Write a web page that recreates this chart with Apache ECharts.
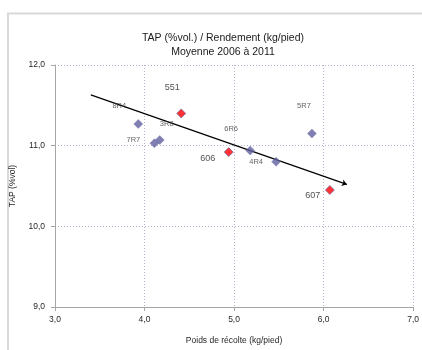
<!DOCTYPE html>
<html><head><meta charset="utf-8">
<script src="https://cdn.jsdelivr.net/npm/echarts@6/dist/echarts.min.js"></script>
<style>html,body{margin:0;padding:0;background:#fff}#c{width:422px;height:350px}</style>
</head><body><div id="c"></div>
<script>
// Data
const blueLabels = ['8R4', '7R7', '3R8', '6R6', '4R4', '5R7'];
const blueX = [3.93, 4.11, 4.17, 5.18, 5.47, 5.87];
const blueY = [11.27, 11.03, 11.07, 10.94, 10.80, 11.15];
const redLabels = ['551', '606', '607'];
const redX = [4.41, 4.94, 6.07];
const redY = [11.40, 10.92, 10.45];
const trendX = [3.40, 6.26];
const trendY = [11.63, 10.52];
const xTicks = [3, 4, 5, 6, 7];
const yTicks = [9, 10, 11, 12];

// label offsets (style)
const offs = {
  '8R4': [-19, -18], '7R7': [-21, -3], '3R8': [7, -16], '6R6': [-19, -22],
  '4R4': [-20, 0], '5R7': [-8, -28], '551': [-9, -26], '606': [-21, 6], '607': [-17, 5]
};
const font = 'Liberation Sans';
const fmt = v => v.toFixed(1).replace('.', ',');

const chart = echarts.init(document.getElementById('c'), null, {renderer: 'canvas'});
const gridStyle = {show: true, lineStyle: {color: '#b4b4d2', type: [1, 2], width: 1}};
chart.setOption({
  animation: false,
  graphic: [{
    type: 'polyline', silent: true,
    shape: {points: [[8, 350], [8, 13.5], [422, 13.5]]},
    style: {stroke: '#d9d9d9', lineWidth: 2, fill: null}
  }],
  title: {
    text: 'TAP (%vol.) / Rendement (kg/pied)\nMoyenne 2006 à 2011',
    left: 218, top: 26, textAlign: 'center',
    textStyle: {fontFamily: font, fontSize: 10.5, fontWeight: 'normal', color: '#1a1a1a', lineHeight: 14}
  },
  grid: {left: 55, right: 6, top: 65, bottom: 42},
  xAxis: {
    type: 'value', min: xTicks[0], max: xTicks[xTicks.length - 1], interval: 1,
    name: 'Poids de récolte (kg/pied)', nameLocation: 'middle', nameGap: 29,
    nameTextStyle: {fontFamily: font, fontSize: 8.5, color: '#262626'},
    axisLine: {show: true, onZero: false, lineStyle: {color: '#a6a6a6'}},
    axisTick: {show: true, length: 4, lineStyle: {color: '#a6a6a6'}},
    axisLabel: {formatter: fmt, fontFamily: font, fontSize: 8.5, color: '#262626', margin: 8},
    splitLine: gridStyle
  },
  yAxis: {
    type: 'value', min: yTicks[0], max: yTicks[yTicks.length - 1], interval: 1,
    name: 'TAP (%vol)', nameLocation: 'middle', nameGap: 37, nameRotate: 90,
    nameTextStyle: {fontFamily: font, fontSize: 8.5, color: '#262626'},
    axisLine: {show: true, onZero: false, lineStyle: {color: '#a6a6a6'}},
    axisTick: {show: true, length: 4, lineStyle: {color: '#a6a6a6'}},
    axisLabel: {formatter: fmt, fontFamily: font, fontSize: 8.5, color: '#262626', margin: 10},
    splitLine: gridStyle
  },
  series: [
    {
      type: 'lines', coordinateSystem: 'cartesian2d', z: 3,
      symbol: ['none', 'arrow'], symbolSize: 5,
      lineStyle: {color: '#000', width: 1.2, opacity: 1},
      data: [{coords: [[trendX[0], trendY[0]], [trendX[1], trendY[1]]]}]
    },
    {
      type: 'scatter', symbol: 'diamond', symbolSize: 9, z: 4,
      itemStyle: {color: '#5f5f9e', borderColor: '#7878b2', borderWidth: 0.5},
      data: blueX.map((x, i) => ({
        value: [x, blueY[i]], name: blueLabels[i],
        label: {show: true, position: 'inside', offset: offs[blueLabels[i]],
          formatter: blueLabels[i], fontFamily: font, fontSize: 7.5, color: '#3a3a3a'}
      }))
    },
    {
      type: 'scatter', symbol: 'diamond', symbolSize: 9, z: 5,
      itemStyle: {color: '#ff0000', borderColor: '#6060a8', borderWidth: 0.8},
      data: redX.map((x, i) => ({
        value: [x, redY[i]], name: redLabels[i],
        label: {show: true, position: 'inside', offset: offs[redLabels[i]],
          formatter: redLabels[i], fontFamily: font, fontSize: 9, color: '#262626'}
      }))
    }
  ]
});
</script></body></html>
